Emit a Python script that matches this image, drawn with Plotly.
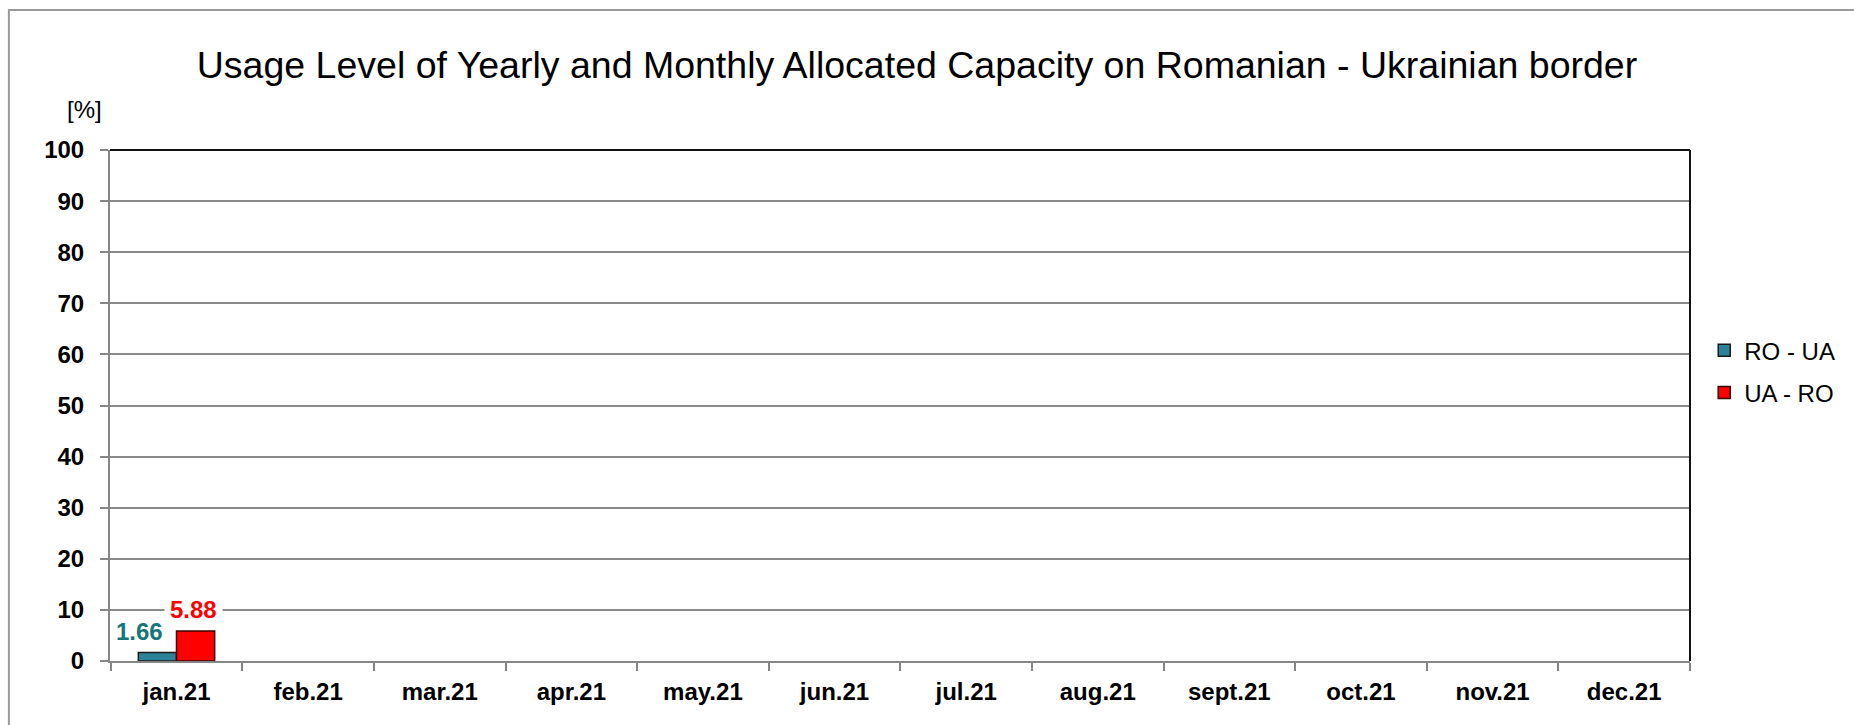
import plotly.graph_objects as go

# Monthly usage level of allocated capacity, Romanian - Ukrainian border
months = ["jan.21", "feb.21", "mar.21", "apr.21", "may.21", "jun.21",
          "jul.21", "aug.21", "sept.21", "oct.21", "nov.21", "dec.21"]
ro_ua = [1.66, None, None, None, None, None, None, None, None, None, None, None]
ua_ro = [5.88, None, None, None, None, None, None, None, None, None, None, None]
series_names = ["RO - UA", "UA - RO"]
y_ticks = [0, 10, 20, 30, 40, 50, 60, 70, 80, 90, 100]

FONT = "Liberation Sans, Arial, sans-serif"
TEAL = "#2B8299"
TEAL_TEXT = "#17767A"
RED = "#FF0000"

fig = go.Figure()
fig.add_trace(go.Bar(
    x=months, y=ro_ua, name=series_names[0], legendgroup="a",
    marker=dict(color=TEAL, line=dict(color="#1a1a1a", width=1.5)),
))
fig.add_trace(go.Bar(
    x=months, y=ua_ro, name=series_names[1], legendgroup="b",
    marker=dict(color=RED, line=dict(color="#3a0000", width=1.5)),
))

# value labels on a white box, offset from the bar group centre
label_specs = [(ro_ua, TEAL_TEXT, -37), (ua_ro, RED, 17)]
for values, colour, dx in label_specs:
    for m, v in zip(months, values):
        if v is None:
            continue
        fig.add_annotation(
            x=m, y=v, xref="x", yref="y", text=f"{v:.2f}",
            showarrow=False, xshift=dx, yshift=21, yanchor="middle",
            font=dict(family=FONT, size=24, color=colour, weight="bold"),
            bgcolor="white", borderpad=5,
        )

# unit label above the value axis
fig.add_annotation(
    x=-0.0035, y=1.080, xref="paper", yref="paper", text="[%]",
    showarrow=False, xanchor="right", yanchor="middle",
    font=dict(family=FONT, size=24, color="black"),
)

shapes = [
    # outer chart frame
    dict(type="rect", xref="paper", yref="paper", x0=-0.064, y0=-0.2,
         x1=1.2, y1=1.274, line=dict(color="#9a9a9a", width=2), layer="below"),
    # dark top and right edges of the plot area
    dict(type="line", xref="paper", yref="paper", x0=0, y0=1, x1=1, y1=1,
         line=dict(color="#111111", width=2), layer="above"),
    dict(type="line", xref="paper", yref="paper", x0=1, y0=0, x1=1, y1=1,
         line=dict(color="#111111", width=2), layer="above"),
]

fig.update_layout(
    width=1854, height=725,
    margin=dict(l=110, r=164, t=150, b=64, autoexpand=False),
    paper_bgcolor="white", plot_bgcolor="white",
    font=dict(family=FONT, color="black"),
    title=dict(
        text="Usage Level of Yearly and Monthly Allocated Capacity on Romanian - Ukrainian border",
        x=0.4946, xanchor="center", y=0.911, yanchor="middle",
        font=dict(family=FONT, size=37.5, color="black"),
    ),
    barmode="group", bargap=0.42, bargroupgap=0,
    showlegend=True,
    legend=dict(
        x=1.009, y=0.566, xanchor="left", yanchor="middle",
        font=dict(family=FONT, size=24, color="black"),
        tracegroupgap=8, traceorder="grouped",
        bgcolor="rgba(0,0,0,0)",
    ),
    shapes=shapes,
)

fig.update_xaxes(
    type="category", categoryorder="array", categoryarray=months,
    tickson="boundaries", ticks="outside", ticklen=8, tickwidth=2,
    tickcolor="#868686", showline=True, linecolor="#868686", linewidth=2,
    showgrid=False,
    tickfont=dict(family=FONT, size=24, color="black", weight="bold"),
    ticklabelstandoff=8,
    fixedrange=True,
)
fig.update_yaxes(
    range=[0, 100], tickvals=y_ticks, ticks="outside", ticklen=8,
    tickwidth=2, tickcolor="#868686", showline=True, linecolor="#868686",
    linewidth=2, showgrid=True, gridcolor="#8a8a8a", gridwidth=1.5,
    zeroline=False,
    tickfont=dict(family=FONT, size=24, color="black", weight="bold"),
    ticklabelstandoff=11,
    fixedrange=True,
)

fig.write_html("out.html")
